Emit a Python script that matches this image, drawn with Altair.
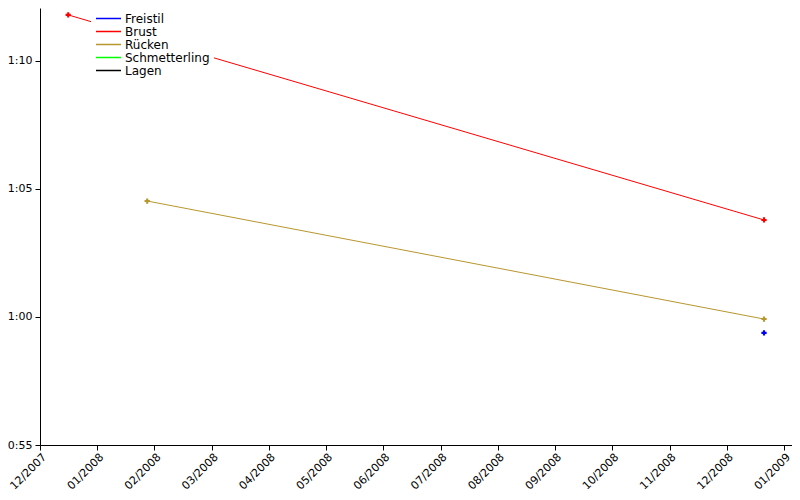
import altair as alt
import pandas as pd

# ---- data (times in seconds) ----
brust_dates = ["2007-12-16", "2008-12-20"]
brust_times = [71.80, 63.79]
ruecken_dates = ["2008-01-27", "2008-12-20"]
ruecken_times = [64.53, 59.92]
freistil_dates = ["2008-12-20"]
freistil_times = [59.38]

series_names = ["Freistil", "Brust", "Rücken", "Schmetterling", "Lagen"]
series_colors = ["#0000ff", "#ff0000", "#b8962e", "#00ff00", "#000000"]

y_ticks = [55, 60, 65, 70]

rows = []
for name, ds, ts in [("Rücken", ruecken_dates, ruecken_times),
                     ("Brust", brust_dates, brust_times),
                     ("Freistil", freistil_dates, freistil_times)]:
    for d, t in zip(ds, ts):
        rows.append({"Lage": name, "Datum": d, "Zeit": t})
df = pd.DataFrame(rows)

# evenly spaced month ticks starting at 12/2007
t0 = pd.Timestamp("2007-12-01T00:00:00Z")
month_ms = 30.4375 * 86400000
x_ticks = [int(t0.value // 10**6 + k * month_ms) for k in range(14)]

font = "DejaVu Sans"

x = alt.X(
    "Datum:T",
    scale=alt.Scale(type="utc", domain=["2007-12-01T00:00:00Z", "2009-01-03T21:00:00Z"], nice=False),
    axis=alt.Axis(
        title=None, values=x_ticks, grid=False,
        labelExpr="utcFormat(time(datum.value) + 15*86400000, '%m/%Y')",
        labelAngle=-45, labelAlign="right", labelBaseline="top",
        labelFont=font, labelFontSize=11, labelColor="black",
        domainColor="black", tickColor="black", tickSize=5, labelPadding=1,
        labelOverlap=False, labelFlush=False,
    ),
)
y = alt.Y(
    "Zeit:Q",
    scale=alt.Scale(domain=[55, 72.07], nice=False, zero=False),
    axis=alt.Axis(
        title=None, values=y_ticks, grid=False,
        labelExpr="floor(datum.value/60) + ':' + (datum.value % 60 < 10 ? '0' : '') + (datum.value % 60)",
        labelFont=font, labelFontSize=11, labelColor="black",
        domainColor="black", tickColor="black", tickSize=5, labelPadding=3,
    ),
)
color = alt.Color(
    "Lage:N",
    scale=alt.Scale(domain=series_names, range=series_colors),
    legend=alt.Legend(
        title=None, orient="none", legendX=51, legendY=1,
        symbolType="stroke", symbolSize=625, symbolStrokeWidth=1.5,
        clipHeight=11, rowPadding=0, padding=4, fillColor="white",
        labelFont=font, labelFontSize=12,
        labelColor="black", labelOffset=3,
    ),
)

base = alt.Chart(df)
lines = base.mark_line(strokeWidth=1).encode(x=x, y=y, color=color, detail="Lage:N")
points = base.mark_point(shape="cross", filled=True, size=28, opacity=1).encode(x=x, y=y, color=color)

chart = (lines + points).properties(
    width=752, height=437,
    padding={"left": 32, "top": 0, "right": 0, "bottom": 47},
    autosize="none",
).configure_view(stroke=None)

chart.save("out.html", embed_options={"renderer": "svg", "actions": False})
